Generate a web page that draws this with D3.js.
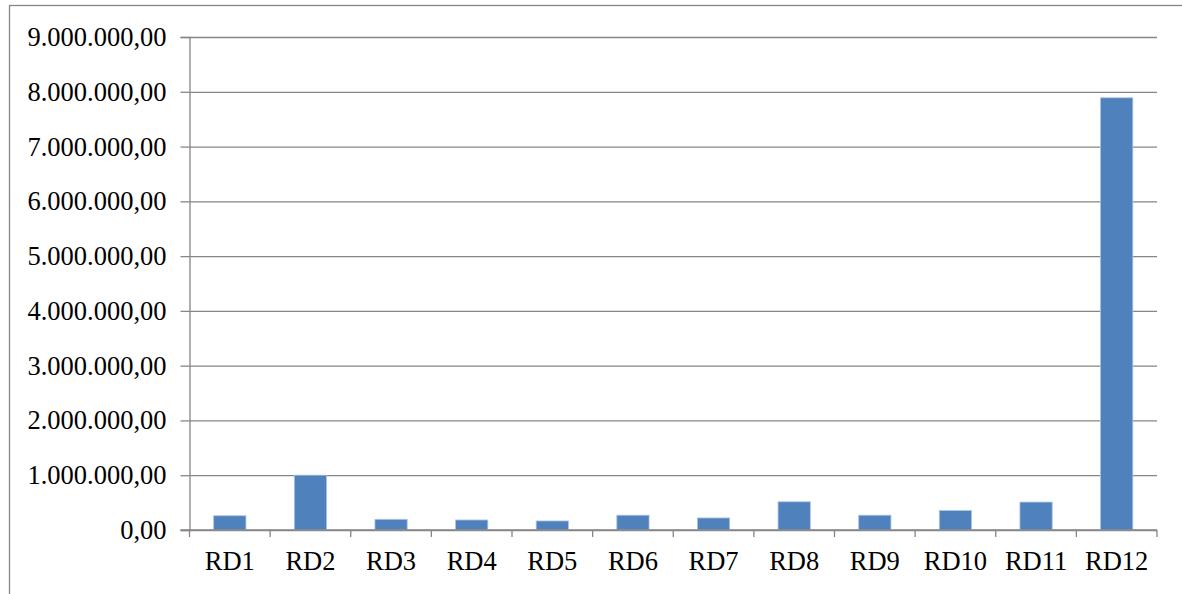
<!DOCTYPE html>
<html>
<head>
<meta charset="utf-8">
<script src="https://cdn.jsdelivr.net/npm/d3@7"></script>
<style>
  html, body { margin: 0; padding: 0; background: #fff; overflow: hidden; }
  svg { display: block; }
</style>
</head>
<body>
<svg id="chart" width="1182" height="594" font-family="'Liberation Serif', 'Times New Roman', serif"></svg>
<script>
const categories = ["RD1","RD2","RD3","RD4","RD5","RD6","RD7","RD8","RD9","RD10","RD11","RD12"];
const values = [260000, 1000000, 195000, 183000, 165000, 270000, 220000, 515000, 270000, 355000, 510000, 7890000];
const yTicks = [0,1000000,2000000,3000000,4000000,5000000,6000000,7000000,8000000,9000000];

const svg = d3.select("#chart");
const plotLeft = 189.5, plotRight = 1157, plotTop = 37, plotBottom = 530;
const gridColor = "#868686";
const fontSize = 26.5;

// outer chart frame (extends beyond the visible area on right/bottom)
svg.append("rect")
  .attr("x", 9.5).attr("y", 5.5)
  .attr("width", 1200).attr("height", 700)
  .attr("fill", "none").attr("stroke", gridColor).attr("stroke-width", 1.3);

const x = d3.scaleBand().domain(categories).range([plotLeft, plotRight]).padding(0);
const y = d3.scaleLinear().domain([0, 9000000]).range([plotBottom, plotTop]);

const fmt = v => {
  const s = d3.format(",.2f")(v);
  return s.replace(/,/g, "#").replace(/\./g, ",").replace(/#/g, ".");
};

// y axis with gridlines
const yAxis = d3.axisLeft(y).tickValues(yTicks).tickSize(9).tickPadding(14).tickFormat(fmt);
const gy = svg.append("g").attr("transform", `translate(${plotLeft},0)`).call(yAxis);
gy.attr("font-family", null).attr("font-size", fontSize);
gy.select(".domain").attr("stroke", gridColor).attr("stroke-width", 1.3);
gy.selectAll(".tick line").attr("stroke", gridColor).attr("stroke-width", 1.3);
gy.selectAll(".tick").append("line")
  .attr("x1", 0).attr("x2", plotRight - plotLeft)
  .attr("stroke", gridColor).attr("stroke-width", 1.3);
gy.selectAll(".tick text").attr("fill", "#000");

// bars
const barW = x.bandwidth() * 0.4;
svg.append("g").selectAll("rect").data(values).join("rect")
  .attr("x", (d, i) => x(categories[i]) + (x.bandwidth() - barW) / 2)
  .attr("y", d => y(d))
  .attr("width", barW)
  .attr("height", d => y(0) - y(d))
  .attr("fill", "#4f81bd")
  .attr("stroke", "#a9c4e6").attr("stroke-width", 0.8);

// x axis with category boundary ticks
const gx = svg.append("g").attr("transform", `translate(0,${plotBottom})`).attr("font-size", fontSize);
gx.append("line").attr("x1", plotLeft - 9).attr("x2", plotRight).attr("stroke", gridColor).attr("stroke-width", 1.3);
const bounds = categories.map(c => x(c)).concat([plotRight]);
gx.selectAll("line.tk").data(bounds).join("line").attr("class", "tk")
  .attr("x1", d => d).attr("x2", d => d).attr("y1", 0).attr("y2", 7)
  .attr("stroke", gridColor).attr("stroke-width", 1.3);
gx.selectAll("text.lbl").data(categories).join("text").attr("class", "lbl")
  .attr("x", d => x(d) + x.bandwidth() / 2)
  .attr("y", 40)
  .attr("text-anchor", "middle")
  .attr("fill", "#000")
  .text(d => d);
</script>
</body>
</html>
